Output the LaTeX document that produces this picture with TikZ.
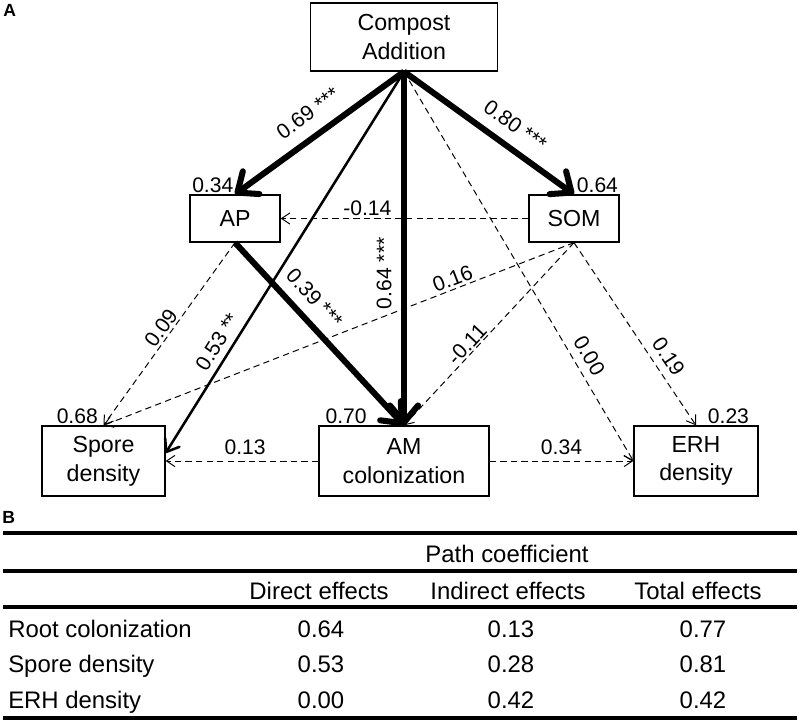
\documentclass[tikz,border=0pt]{standalone}
\usepackage{fontspec}
\setmainfont{Liberation Sans}
\usetikzlibrary{arrows.meta,calc}

\tikzset{
  var/.style={draw, line width=0.9pt, align=center, inner sep=1pt, font=\fontsize{16.5}{20.5}\selectfont},
  coef/.style={font=\fontsize{15}{18}\selectfont, inner sep=1pt, sloped},
  rsq/.style={font=\fontsize{15}{18}\selectfont, inner sep=1pt},
  panel/.style={font=\fontsize{12.5}{14}\selectfont\bfseries, anchor=north west, inner sep=0pt},
  strong/.style={line width=4.3pt, -{Straight Barb[length=12pt,width=20pt,round]}},
  medium/.style={line width=1.8pt, -{Straight Barb[length=8pt,width=12pt,round]}},
  weak/.style={line width=0.7pt, dash pattern=on 4.5pt off 3pt, -{Straight Barb[length=6pt,width=8pt]}},
  tab/.style={font=\fontsize{17}{19}\selectfont, inner sep=0pt},
}

\begin{document}
\begin{tikzpicture}[x=0.025cm, y=-0.025cm]
        \useasboundingbox (0,0) rectangle (800,722);

        % Panel letters
        \node[panel] (pA) at (3,4) {A};
        \node[panel] (pB) at (2,511) {B};

        % Variables
        \node[var, minimum width=4.675cm, minimum height=1.7cm] (CA) at (404,37) {Compost\\Addition};
        \node[var, minimum width=2.25cm, minimum height=1.175cm] (AP) at (235,218.5) {AP};
        \node[var, minimum width=2.25cm, minimum height=1.175cm] (SOM) at (574,218.5) {SOM};
        \node[var, minimum width=3.075cm, minimum height=1.75cm] (SD) at (103.5,461) {Spore\\density};
        \node[var, minimum width=4.25cm, minimum height=1.75cm] (AM) at (404,461) {AM\\colonization};
        \node[var, minimum width=3.1cm, minimum height=1.75cm] (ERH) at (696,461) {ERH\\density};

        % Explained variance
        \node[rsq, anchor=south east] (r2AP) at (AP.north) {0.34};
        \node[rsq, anchor=south east] (r2SOM) at (SOM.north east) {0.64};
        \node[rsq, anchor=south east] (r2SD) at ($(SD.north)+(-4,0)$) {0.68};
        \node[rsq, anchor=south east] (r2AM) at ($(AM.north west)+(50,0)$) {0.70};
        \node[rsq, anchor=south east] (r2ERH) at ($(ERH.north east)+(-8,0)$) {0.23};

        % Paths from compost addition
        \draw[strong] (CA.south) -- (AP.north) node[coef, pos=0.49, above=7.8pt] {0.69 ***};
        \draw[strong] (CA.south) -- (SOM.north) node[coef, pos=0.58, above=7pt] {0.80 ***};
        \draw[strong] (CA.south) -- (AM.north) node[coef, pos=0.57, rotate=180, above=5.7pt] {0.64 ***};
        \draw[medium] (CA.south) -- ($(SD.east)+(0,-8)$) node[coef, pos=0.73, above=3.5pt] {0.53 **};
        \draw[weak] (CA.south) -- (ERH.west) node[coef, pos=0.75, above=4.3pt] {0.00};

        % Paths from AP
        \draw[strong] (AP.south) -- (AM.north) node[coef, pos=0.38, above=6.4pt] {0.39 ***};
        \draw[weak] (AP.south) -- (SD.north) node[coef, pos=0.5, above=0.7pt] {0.09};

        % Paths from SOM
        \draw[weak] (SOM.west) -- (AP.east) node[coef, pos=0.65, above=0.7pt] {-0.14};
        \draw[weak] (SOM.south) -- (SD.north) node[coef, pos=0.25, above=0.7pt] {0.16};
        \draw[weak] (SOM.south) -- (AM.north) node[coef, pos=0.59, above=0pt] {-0.11};
        \draw[weak] (SOM.south) -- (ERH.north) node[coef, pos=0.67, above=4.3pt] {0.19};

        % Paths from AM colonization
        \draw[weak] (AM.west) -- (SD.east) node[coef, pos=0.48, above=2.8pt] {0.13};
        \draw[weak] (AM.east) -- (ERH.west) node[coef, midway, above=2.8pt] {0.34};

        % Table of effects
        \draw[line width=2.5pt] (3,533) -- (797,533);
        \draw[line width=2.2pt] (3,571) -- (797,571);
        \draw[line width=2.2pt] (3,607) -- (797,607);
        \draw[line width=2.5pt] (3,718) -- (797,718);
        \node[tab, anchor=base] (hPath) at (507,562) {Path coefficient};
        \node[tab, anchor=base] (hDir) at (319,599) {Direct effects};
        \node[tab, anchor=base] (hInd) at (508,599) {Indirect effects};
        \node[tab, anchor=base] (hTot) at (698,599) {Total effects};
        \foreach \name/\dir/\ind/\tot [count=\r] in {Root colonization/0.64/0.13/0.77, Spore density/0.53/0.28/0.81, ERH density/0.00/0.42/0.42}{
            \node[tab, anchor=base west] (row\r) at (8,601.5+35.5*\r) {\name};
            \node[tab, anchor=base] (dir\r) at (321,601.5+35.5*\r) {\dir};
            \node[tab, anchor=base] (ind\r) at (511,601.5+35.5*\r) {\ind};
            \node[tab, anchor=base] (tot\r) at (703,601.5+35.5*\r) {\tot};
        }
    \end{tikzpicture}
\end{document}
